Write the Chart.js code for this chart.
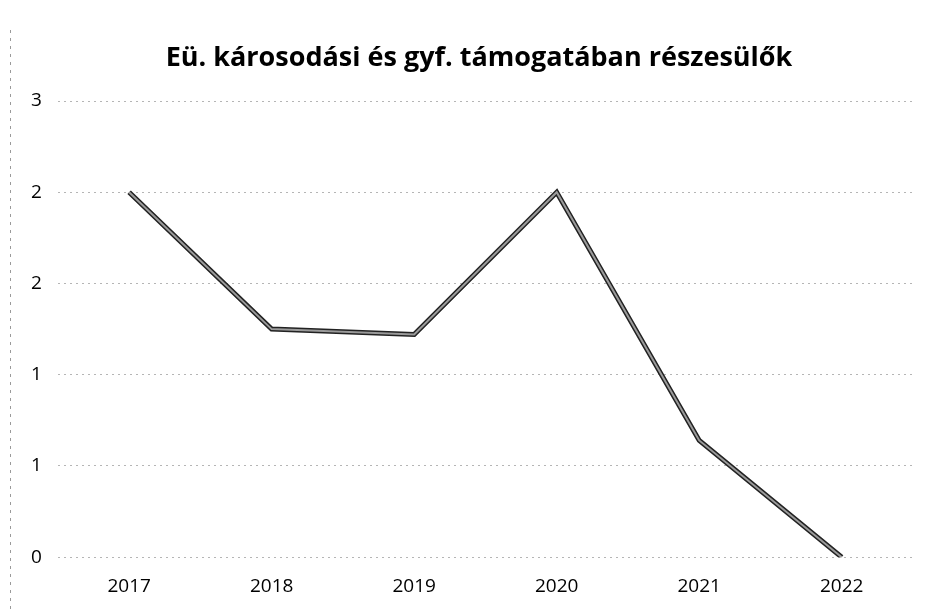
<!DOCTYPE html>
<html>
<head>
<meta charset="utf-8">
<script src="https://cdn.jsdelivr.net/npm/chart.js@4/dist/chart.umd.min.js"></script>
<style>
html,body{margin:0;padding:0;background:#fff;}
#wrap{width:928px;height:611px;position:relative;}
</style>
</head>
<body>
<div id="wrap"><canvas id="c" width="928" height="611"></canvas></div>
<script>
const titleText = "Eü. károsodási és gyf. támogatában részesülők";
const categories = ["2017", "2018", "2019", "2020", "2021", "2022"];
const values = [2.0, 1.25, 1.22, 2.0, 0.64, 0.0];

const ctx = document.getElementById('c').getContext('2d');
new Chart(ctx, {
  type: 'line',
  data: {
    labels: categories,
    datasets: [
      {
        data: values,
        borderColor: '#9a9a9a',
        borderWidth: 2,
        pointRadius: 0,
        tension: 0,
        order: 0
      },
      {
        data: values,
        borderColor: '#222',
        borderWidth: 5,
        pointRadius: 0,
        tension: 0,
        order: 1
      }
    ]
  },
  options: {
    responsive: false,
    animation: false,
    layout: { padding: { left: 15, right: 15, top: 101, bottom: 3 } },
    plugins: {
      legend: { display: false },
      tooltip: { enabled: false },
      title: { display: false }
    },
    scales: {
      x: {
        offset: true,
        grid: { display: false },
        border: { display: false },
        ticks: {
          color: '#000',
          font: { family: 'Open Sans', size: 19 },
          padding: 10
        }
      },
      y: {
        min: 0,
        max: 2.5,
        ticks: {
          stepSize: 0.5,
          color: '#000',
          font: { family: 'Open Sans', size: 19 },
          padding: 16,
          callback: (v) => Math.round(v)
        },
        grid: {
          color: '#b5b5b5',
          lineWidth: 1,
          drawTicks: false
        },
        border: { display: false, dash: [2, 4] }
      }
    }
  },
  plugins: [{
    id: 'frameAndTitle',
    beforeDraw(chart) {
      const c = chart.ctx;
      c.save();
      c.strokeStyle = '#9a9a9a';
      c.lineWidth = 1;
      c.setLineDash([3, 5]);
      c.beginPath();
      c.moveTo(10.5, 30);
      c.lineTo(10.5, 611);
      c.stroke();
      c.restore();
    },
    afterDraw(chart) {
      const c = chart.ctx;
      c.save();
      c.fillStyle = '#000';
      c.font = 'bold 27px "Open Sans"';
      c.textAlign = 'center';
      c.textBaseline = 'middle';
      c.fillText(titleText, 479, 58);
      c.restore();
    }
  }]
});
</script>
</body>
</html>
